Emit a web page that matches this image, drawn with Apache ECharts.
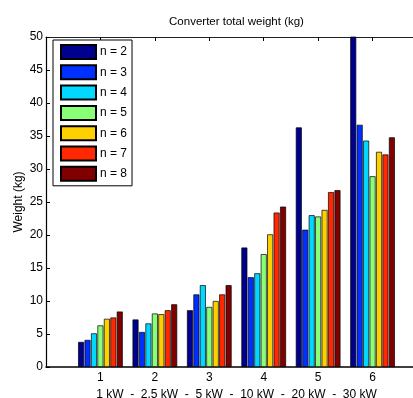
<!DOCTYPE html>
<html>
<head>
<meta charset="utf-8">
<script src="https://cdn.jsdelivr.net/npm/echarts@6/dist/echarts.min.js"></script>
<style>
html,body{margin:0;padding:0;background:#fff;}
#chart{width:413px;height:398px;}
</style>
</head>
<body>
<div id="chart"></div>
<script>
// ---- data ----
const categories = ['1', '2', '3', '4', '5', '6'];
const seriesNames = ['n = 2', 'n = 3', 'n = 4', 'n = 5', 'n = 6', 'n = 7', 'n = 8'];
const n2 = [3.8, 7.2, 8.6, 18.1, 36.3, 51.0];
const n3 = [4.1, 5.3, 11.0, 13.6, 20.8, 36.7];
const n4 = [5.1, 6.6, 12.4, 14.2, 23.0, 34.3];
const n5 = [6.3, 8.1, 9.1, 17.1, 22.8, 28.9];
const n6 = [7.3, 8.0, 10.0, 20.1, 23.8, 32.6];
const n7 = [7.5, 8.6, 11.0, 23.4, 26.5, 32.2];
const n8 = [8.4, 9.5, 12.4, 24.3, 26.8, 34.8];
const yTicks = [0, 5, 10, 15, 20, 25, 30, 35, 40, 45, 50];
const titleText = 'Converter total weight (kg)';
const xName = '1 kW  -  2.5 kW  -  5 kW  -  10 kW  -  20 kW  -  30 kW';
const yName = 'Weight (kg)';

// ---- styling ----
const colors = ['#00008F', '#0030FF', '#00D8FF', '#88FF77', '#FFD000', '#FF2800', '#800000'];
const FONT = 'Liberation Sans, Arial, Helvetica, sans-serif';

// x positions 0..7 (MATLAB xlim [0 7]); categories at 1..6
const xCats = [''].concat(categories, ['']);
const pad = arr => [null].concat(arr, [null]);
const allValues = [n2, n3, n4, n5, n6, n7, n8];

const chart = echarts.init(document.getElementById('chart'), null, {renderer: 'canvas'});
const tickLabelStyle = {color: '#000', fontSize: 12, fontFamily: FONT};

const option = {
  backgroundColor: '#fff',
  animation: false,
  color: colors,
  textStyle: {fontFamily: FONT},
  grid: {left: 46, right: -14, top: 37, bottom: 31, containLabel: false, outerBoundsMode: 'none'},
  graphic: [{
    type: 'text', x: 236.5, y: 22, z: 10,
    style: {text: titleText, fill: '#000', fontSize: 11.5, fontFamily: FONT,
            textAlign: 'center', textVerticalAlign: 'middle'}
  }],
  legend: {
    orient: 'vertical', left: 53, top: 40,
    padding: [4, 5, 4, 7],
    itemWidth: 35, itemHeight: 14, itemGap: 4.3,
    borderColor: '#000', borderWidth: 1, backgroundColor: '#fff',
    icon: 'rect',
    textStyle: {color: '#000', fontSize: 12, fontFamily: FONT, padding: [0, 0, 0, -1]},
    data: seriesNames
  },
  xAxis: [{
    type: 'category', position: 'bottom', data: xCats, boundaryGap: false,
    name: xName, nameLocation: 'middle', nameGap: 22, nameMoveOverlap: false,
    nameTextStyle: {color: '#000', fontSize: 12, fontFamily: FONT},
    axisLine: {lineStyle: {color: '#000', width: 1.5}},
    axisTick: {inside: true, length: 4, interval: 0, lineStyle: {color: '#000'}},
    axisLabel: {interval: 0, margin: 5, ...tickLabelStyle},
    splitLine: {show: false}
  }, {
    type: 'category', position: 'top', data: xCats, boundaryGap: false,
    axisLine: {lineStyle: {color: '#222', width: 1}},
    axisTick: {inside: true, length: 4, interval: 0, lineStyle: {color: '#000'}},
    axisLabel: {show: false},
    splitLine: {show: false}
  }],
  yAxis: {
    type: 'value', min: yTicks[0], max: yTicks[yTicks.length - 1], interval: 5,
    name: yName, nameLocation: 'middle', nameGap: 21, nameMoveOverlap: false,
    nameTextStyle: {color: '#000', fontSize: 12, fontFamily: FONT},
    axisLine: {show: true, lineStyle: {color: '#000', width: 1.2}},
    axisTick: {show: true, inside: true, length: 4, lineStyle: {color: '#000'}},
    axisLabel: {margin: 3, ...tickLabelStyle},
    splitLine: {show: false}
  },
  series: allValues.map((vals, i) => ({
    name: seriesNames[i], type: 'bar', xAxisIndex: 0,
    data: pad(vals),
    barGap: '8%', barCategoryGap: '18%',
    clip: true,
    itemStyle: {color: colors[i], borderColor: '#000', borderWidth: 0.7}
  }))
};
chart.setOption(option);
</script>
</body>
</html>
